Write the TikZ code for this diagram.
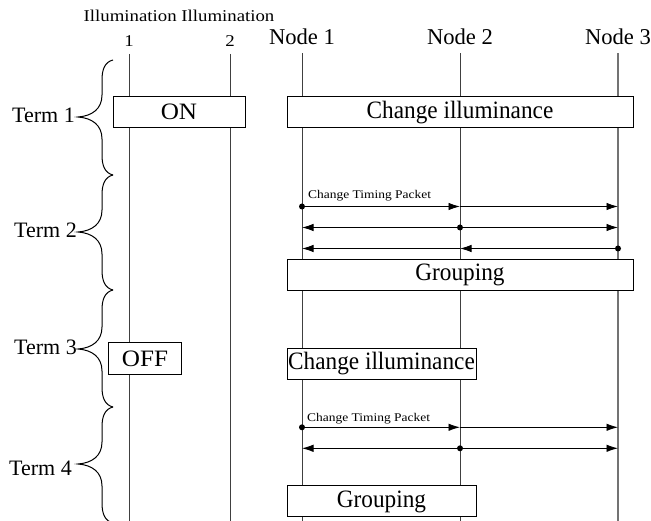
\documentclass[tikz,border=0pt]{standalone}
\usepackage{fontspec}
\setmainfont{Liberation Serif}
\newfontfamily\wideserif[FakeStretch=1.14]{Liberation Serif}
\newfontfamily\midserif[FakeStretch=1.07]{Liberation Serif}
\newfontfamily\narrowserif[FakeStretch=0.93]{Liberation Serif}
\usetikzlibrary{arrows.meta}
\begin{document}
\begin{tikzpicture}[x=1pt,y=-1pt,
  life/.style={draw=black!75, line width=0.9pt},
  lifethick/.style={draw=black!55, line width=1.8pt},
  box/.style={draw=black, line width=1pt, fill=white, inner sep=0pt,
    text height=17pt, text depth=5pt, font=\narrowserif\fontsize{25}{25}\selectfont},
  bigbox/.style={box, text height=15.5pt, text depth=0pt, font=\midserif\fontsize{23.5}{23.5}\selectfont},
  msg/.style={-{Latex[length=11.5pt,width=7.5pt]}, line width=0.9pt},
  hdr/.style={font=\fontsize{22.6}{22.6}\selectfont, anchor=base, inner sep=0pt},
  ihdr/.style={font=\wideserif\fontsize{16.5}{16.5}\selectfont, anchor=base, inner sep=0pt},
  term/.style={font=\fontsize{22}{22}\selectfont, anchor=base east, inner sep=0pt},
  pkt/.style={font=\wideserif\fontsize{11.8}{11.8}\selectfont, anchor=base west, inner sep=0pt},
  cbrace/.style={line width=1pt}
]
\useasboundingbox (0,0) rectangle (651,521);

% headers
\node[ihdr] (ill) at (179,21.7) {Illumination Illumination};
\node[ihdr] (i1) at (129,46.7) {1};
\node[ihdr] (i2) at (230,46.7) {2};
\node[hdr] (n1) at (302,45) {Node 1};
\node[hdr] (n2) at (460,45) {Node 2};
\node[hdr] (n3) at (618,45) {Node 3};

\coordinate (i1b) at (129,525);
\coordinate (i2b) at (230,525);
\coordinate (n1b) at (302,525);
\coordinate (n2b) at (460,525);
\coordinate (n3b) at (618,525);

% lifelines
\draw[life] ([yshift=-7pt]i1.south) -- (i1b);
\draw[life] ([yshift=-7pt]i2.south) -- (i2b);
\draw[life] ([yshift=-8pt]n1.south) -- (n1b);
\draw[life] ([yshift=-8pt]n2.south) -- (n2b);
\draw[lifethick] ([yshift=-8pt]n3.south) -- (n3b);

% braces
\foreach \t/\m/\b in {60/117/175, 175/232/290, 290/349/407, 407/464/523}{
  \draw[cbrace] (113,\t) .. controls (105,\t+2) and (102,\t+9) .. (102,\t+20)
     -- (102,\m-22) .. controls (102,\m-8) and (92,\m-1) .. (78,\m)
     .. controls (92,\m+1) and (102,\m+8) .. (102,\m+22)
     -- (102,\b-20) .. controls (102,\b-9) and (105,\b-2) .. (113,\b);
}
\node[term] (t1) at (75,123) {Term 1};
\node[term] (t2) at (77,237.7) {Term 2};
\node[term] (t3) at (77,355) {Term 3};
\node[term] (t4) at (72,475) {Term 4};

% boxes
\node[bigbox, minimum width=132pt, minimum height=31pt] (on) at (179,112.2) {ON};
\node[box, minimum width=346pt, minimum height=31pt] (ci1) at (460,112.2) {Change illuminance};
\node[box, minimum width=346pt, minimum height=31.5pt] (gr1) at (460,275) {Grouping};
\node[bigbox, minimum width=73pt, minimum height=32pt] (off) at (145,358.8) {OFF};
\node[box, minimum width=189pt, minimum height=31.5pt] (ci2) at (381.5,364) {Change illuminance};
\node[box, minimum width=189pt, minimum height=31.5pt] (gr2) at (381.5,501) {Grouping};

% term 2 messages
\coordinate (a1) at (302,206.5); \coordinate (a2) at (460,206.5); \coordinate (a3) at (618,206.5);
\coordinate (b1) at (302,227.5); \coordinate (b2) at (460,227.5); \coordinate (b3) at (618,227.5);
\coordinate (c1) at (302,248.5); \coordinate (c2) at (460,248.5); \coordinate (c3) at (618,248.5);
\node[pkt] (p1) at (308,199) {Change Timing Packet};
\draw[msg] (a1) -- (a2);
\draw[msg] (a2) -- (a3);
\draw[msg] (b2) -- (b1);
\draw[msg] (b2) -- (b3);
\draw[msg] (c3) -- (c2);
\draw[msg] (c2) -- (c1);
\fill (a1) circle (3pt);
\fill (b2) circle (3pt);
\fill (c3) circle (3pt);

% term 4 messages
\coordinate (d1) at (302,427.3); \coordinate (d2) at (460,427.3); \coordinate (d3) at (618,427.3);
\coordinate (e1) at (302,448.3); \coordinate (e2) at (460,448.3); \coordinate (e3) at (618,448.3);
\node[pkt] (p2) at (307,421.7) {Change Timing Packet};
\draw[msg] (d1) -- (d2);
\draw[msg] (d2) -- (d3);
\draw[msg] (e2) -- (e1);
\draw[msg] (e2) -- (e3);
\fill (d1) circle (3pt);
\fill (e2) circle (3pt);
\end{tikzpicture}
\end{document}
